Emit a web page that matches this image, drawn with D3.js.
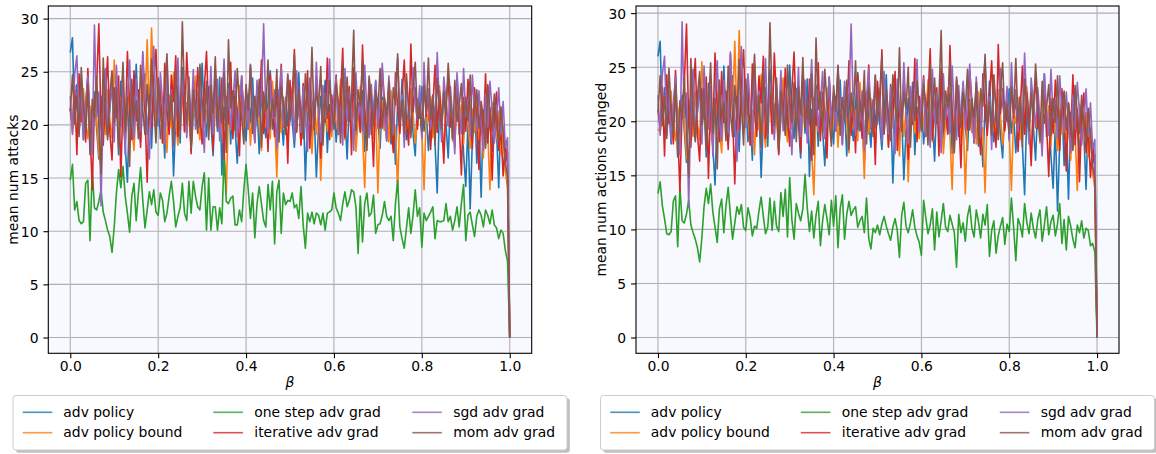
<!DOCTYPE html>
<html>
<head>
<meta charset="utf-8">
<script src="https://cdn.jsdelivr.net/npm/d3@7"></script>
<style>
  body { margin: 0; background: #fff; }
  svg { display: block; }
  text { font-family: "DejaVu Sans", sans-serif; fill: #000; }
</style>
</head>
<body>
<svg id="chart" width="1156" height="454"></svg>
<script>
// Series labels and colours (one entry per attack method)
const seriesNames = ["adv policy", "adv policy bound", "one step adv grad",
                     "iterative adv grad", "sgd adv grad", "mom adv grad"];
const seriesColors = ["#1f77b4", "#ff7f0e", "#2ca02c", "#d62728", "#9467bd", "#8c564b"];

// Tick values
const xTicks = [0.0, 0.2, 0.4, 0.6, 0.8, 1.0];
const yTicks = [0, 5, 10, 15, 20, 25, 30];

// beta runs from 0 to 1 in steps of 0.005 (201 samples per series)

// ---- mean num attacks ----
const attacksAdvPolicy = [
26.8,28.2,20.5,23.8,19.2,22.4,18.6,21.9,24.6,17.4,20.8,23.1,19.6,16.8,22.7,20.1,25.2,18.9,21.5,23.9,
19.8,22.6,17.2,24.1,20.4,18.1,14.6,21.8,23.4,19.5,25.7,20.9,18.4,22.3,24.8,19.1,21.6,17.8,23.5,20.2,
22.9,18.7,21.2,16.9,24.3,19.9,22.1,15.2,20.6,23.7,18.3,25.4,21.4,19.3,23.2,17.6,20.9,24.1,22.4,19.7,
25.8,21.1,18.9,23.6,20.3,17.1,22.8,19.4,24.5,15.3,21.7,20.1,23.9,18.2,22.5,19.8,16.4,21.3,24.2,20.7,
18.5,22.9,20.2,24.4,19.1,21.8,17.3,23.1,20.5,18.8,22.2,25.1,19.6,21.4,16.7,23.3,20.8,18.1,22.6,19.9,
23.7,20.4,17.9,21.6,24.9,19.2,22.3,14.8,20.7,23.4,18.6,21.2,15.1,19.8,22.7,20.1,24.2,17.4,21.9,19.3,
22.5,18.4,20.9,23.8,19.6,21.3,16.8,22.4,20.2,24.6,18.9,21.7,19.4,23.2,17.5,20.6,22.9,19.1,21.4,24.1,
20.3,17.8,22.6,19.5,21.1,23.5,18.2,20.8,16.3,22.1,19.7,24.3,20.5,18.6,21.9,23.1,19.2,17.1,22.4,20.6,
23.6,19.4,21.2,17.6,20.9,22.7,18.3,13.6,21.5,19.8,23.4,20.1,16.9,22.2,18.7,20.4,24.5,19.1,21.7,17.3,
14.2,20.3,12.1,18.6,22.8,16.4,19.9,13.2,21.4,18.1,23.6,20.2,17.5,22.1,19.4,14.1,21.2,18.8,16.6,17.4,
0];
const attacksAdvPolicyBound = [
21.6,19.3,20.8,22.9,19.6,21.2,23.4,20.1,18.7,21.8,19.9,22.3,20.5,17.2,16.3,21.4,19.1,23.3,20.2,18.8,
26.1,21.9,19.4,22.6,20.3,18.5,21.7,23.1,19.8,17.6,22.4,20.6,19.2,24.2,21.3,28.0,20.4,29.1,22.7,19.5,
23.6,20.9,18.3,21.5,17.4,22.8,19.7,24.9,20.2,18.1,21.6,23.4,19.3,22.1,20.7,17.9,21.9,24.6,20.4,18.6,
22.3,19.8,21.4,20.1,23.2,18.4,21.1,22.7,19.2,20.8,17.7,13.5,21.3,19.6,22.5,20.3,18.9,23.7,21.6,19.4,
20.9,22.4,18.1,21.8,19.5,23.1,20.4,17.6,22.2,19.9,21.5,18.7,24.1,20.6,15.1,21.9,19.3,22.6,20.2,18.4,
21.7,23.5,19.6,20.8,22.2,18.2,21.3,19.9,23.8,20.5,17.3,22.4,19.1,21.6,14.8,20.7,22.9,19.4,21.2,18.9,
22.7,20.3,19.2,24.3,21.1,18.6,20.9,22.5,19.7,21.8,17.5,20.4,23.6,19.3,14.1,21.5,20.2,22.8,18.7,21.3,
13.6,20.6,22.3,19.5,21.7,18.4,23.2,20.1,19.8,13.7,21.4,22.6,18.9,20.7,19.2,23.4,21.1,18.3,20.5,22.1,
19.6,13.9,21.2,20.3,22.7,18.8,21.6,19.4,23.7,20.9,17.4,22.3,19.9,21.4,18.5,20.6,24.2,19.7,21.9,18.2,
22.4,20.1,17.8,21.5,19.3,22.9,18.6,20.7,16.9,21.8,19.5,13.9,22.1,20.4,18.7,21.3,17.2,19.8,15.6,14.1,
0];
const attacksOneStep = [
14.8,16.3,12.0,12.8,11.0,10.7,10.9,14.5,14.8,9.1,15.8,12.2,12.0,12.8,13.9,11.8,11.0,10.1,9.5,8.0,
10.4,13.6,15.8,14.1,16.1,13.3,11.7,9.9,13.3,14.5,11.0,13.6,16.0,12.9,10.3,12.0,13.7,12.5,13.9,11.8,
11.5,13.6,12.9,10.9,11.7,13.3,14.7,12.8,10.4,11.4,12.2,14.5,11.7,11.0,14.7,11.7,14.7,13.3,12.3,12.0,
14.2,15.5,10.1,15.0,10.1,12.3,
12.3,10.1,12.2,10.7,17.2,12.8,12.6,13.1,13.3,10.6,10.6,12.0,10.9,13.9,16.3,13.9,11.2,13.6,9.4,12.6,
14.2,12.6,11.0,10.4,14.4,12.0,14.7,8.8,13.7,14.8,9.8,13.6,12.5,12.9,12.8,13.6,12.2,12.5,11.2,14.2,
10.6,8.4,11.7,10.9,11.8,10.7,11.7,11.5,10.6,11.7,10.1,11.7,11.8,12.0,13.6,12.2,11.7,11.0,12.6,13.7,
12.3,12.9,13.9,13.7,12.3,7.9,
13.3,9.0,12.6,13.6,11.4,11.7,13.4,9.8,10.6,10.7,11.5,12.8,11.4,11.0,11.4,9.1,12.6,14.8,10.4,9.3,
8.4,10.3,12.2,9.8,11.5,13.9,11.4,12.2,8.5,11.7,11.0,11.4,11.8,12.3,9.3,11.0,10.9,10.9,11.0,12.6,
10.9,11.4,10.1,11.0,12.3,10.4,12.6,14.4,9.1,11.5,11.8,10.6,9.5,11.4,12.0,11.5,10.4,12.0,11.5,10.7,
12.0,10.6,10.3,9.3,10.1,9.8,8.2,7.2,
0];
const attacksIterative = [
21.5,19.9,23.7,17.2,24.8,20.3,22.1,18.4,25.3,19.6,13.9,21.7,23.9,29.5,20.2,18.1,22.9,26.4,19.3,16.7,
23.5,20.7,24.6,15.1,22.4,19.2,26.9,21.8,18.6,25.1,20.4,23.3,17.9,26.7,21.2,14.6,22.8,19.7,24.2,27.1,
20.9,23.6,18.3,25.8,21.4,19.1,24.7,22.2,26.5,18.9,21.7,23.9,19.4,26.8,22.5,17.3,24.1,20.6,25.4,21.1,
18.2,23.4,26.9,20.8,22.9,17.6,25.2,21.5,19.3,24.4,16.8,22.7,20.1,25.9,18.7,23.2,21.4,17.1,24.6,20.3,
22.8,19.6,25.3,21.2,18.4,23.7,20.9,26.1,19.2,22.4,17.5,24.8,21.6,18.9,23.1,20.5,25.7,19.8,22.3,16.4,
24.2,21.1,27.1,19.4,22.6,18.1,23.9,20.7,25.1,17.8,22.2,19.6,24.5,21.3,16.9,23.4,20.2,26.3,18.6,22.8,
20.4,24.7,19.1,22.5,27.2,18.8,21.9,23.6,17.2,25.4,20.6,22.1,19.3,27.5,21.7,18.2,24.3,20.9,16.1,23.1,
21.4,19.7,25.2,22.3,18.5,23.8,20.1,17.4,24.9,21.6,19.2,22.7,26.1,20.3,18.1,27.6,21.2,23.5,19.6,22.4,
18.9,24.1,20.8,22.9,17.7,21.5,25.6,19.3,23.2,20.6,16.4,22.1,24.4,19.8,21.3,17.9,23.7,20.2,15.3,22.6,
19.4,24.3,21.1,17.8,23.5,20.4,15.8,22.2,19.1,24.8,18.3,21.6,14.8,20.9,23.1,17.6,19.7,15.2,18.4,16.2,
0];
const attacksSgd = [
22.7,19.1,24.8,26.5,20.3,23.4,18.6,21.9,24.6,19.7,17.3,29.4,20.8,23.1,12.4,22.2,25.3,19.2,21.6,24.2,
18.4,25.6,21.3,19.8,23.7,17.2,22.9,26.1,20.5,18.7,24.3,21.1,19.4,26.9,22.4,20.2,16.8,23.5,27.4,21.7,
19.9,24.9,22.1,18.2,25.8,20.6,23.3,17.9,21.5,26.3,19.3,24.1,22.7,18.8,23.9,20.4,25.2,19.6,22.3,24.7,
21.2,17.4,23.8,20.7,25.5,19.1,22.6,24.3,18.5,21.8,26.2,20.3,23.4,19.7,22.1,25.1,18.9,21.4,24.6,20.1,
23.2,19.6,25.7,21.9,18.3,24.2,20.8,22.5,29.5,21.3,19.2,24.1,20.6,23.3,17.8,22.7,25.4,19.9,21.6,24.8,
20.2,22.9,18.6,25.1,21.4,19.3,23.6,20.9,17.5,24.4,22.1,19.8,25.9,21.2,18.4,23.7,20.6,22.4,26.2,19.5,
22.8,24.5,19.2,21.7,18.1,25.3,20.4,23.1,21.9,17.6,24.9,20.7,22.6,19.4,25.6,21.3,18.8,23.8,20.1,24.2,
19.7,22.3,25.8,20.9,18.5,24.6,21.4,19.1,23.5,26.3,20.2,22.8,17.9,24.1,21.6,19.3,25.4,22.1,20.5,23.7,
18.7,25.9,21.1,23.4,19.6,22.7,20.3,26.8,21.8,18.4,24.5,22.2,19.9,23.6,20.7,17.3,24.9,21.5,19.2,25.3,
20.8,22.4,18.9,24.7,21.3,19.5,23.2,20.1,17.6,22.9,19.8,24.1,21.4,18.3,20.6,23.5,19.1,22.2,17.9,18.8,
0];
const attacksMom = [
21.3,24.7,20.1,22.8,18.9,25.4,21.6,19.3,23.9,17.2,22.4,20.7,24.6,19.8,15.4,26.3,21.1,18.6,22.9,25.1,
20.2,23.5,17.9,21.8,25.9,19.4,22.6,16.1,24.3,20.8,22.2,18.7,25.6,21.4,19.1,23.8,20.5,26.2,22.1,18.3,
24.4,21.2,19.6,23.1,26.7,20.3,22.9,18.1,25.2,21.7,19.4,29.7,22.6,20.1,24.5,17.8,23.3,21.5,19.2,25.7,
22.3,20.4,24.1,18.6,23.7,21.1,26.4,19.8,22.5,20.2,24.9,17.4,28.0,21.6,23.2,19.5,25.3,22.1,20.7,18.2,
23.8,21.4,25.6,19.2,22.7,20.6,24.3,17.9,23.1,21.3,26.1,19.7,22.4,20.8,25.2,18.4,23.6,21.9,19.1,24.7,
20.5,22.8,26.6,19.3,23.4,21.2,18.7,24.8,22.1,20.4,27.3,19.8,23.1,21.7,25.5,18.1,22.9,20.6,24.2,21.4,
19.6,23.9,22.2,18.3,25.8,21.1,24.5,20.3,22.7,28.9,19.5,23.3,21.8,26.1,20.2,17.6,24.6,22.4,19.9,23.2,
21.5,25.3,19.7,22.6,20.8,24.1,18.4,23.5,21.9,26.7,20.1,22.3,19.2,24.8,21.6,18.8,23.4,25.9,20.6,22.1,
19.4,23.7,21.2,26.3,20.5,22.8,18.1,24.4,21.7,19.6,23.1,20.9,25.8,22.4,18.7,24.2,20.3,21.8,23.9,19.2,
22.6,20.4,24.7,18.9,21.5,23.3,19.7,22.1,20.6,17.8,23.8,21.2,19.4,22.9,20.1,18.5,21.7,19.3,16.4,15.1,
0];

// ---- mean num actions changed ----
const changedAdvPolicy = [
26.0,27.4,19.8,23.1,18.7,21.6,17.9,21.2,24.1,16.8,20.3,22.4,19.1,16.2,22.0,19.6,24.6,18.3,20.9,23.2,
19.2,21.9,16.7,23.5,19.8,17.6,14.1,21.1,22.8,18.9,25.1,20.3,17.8,21.7,24.2,18.6,20.9,17.2,22.9,19.6,
22.3,18.1,20.6,16.4,23.6,19.3,21.5,14.8,20.1,23.1,17.7,24.8,20.8,18.8,22.6,17.1,20.3,23.5,21.8,19.1,
25.2,20.5,18.4,23.0,19.7,16.6,22.2,18.9,23.9,14.9,21.1,19.5,23.3,17.7,21.9,19.2,15.9,20.7,23.6,20.1,
17.9,22.3,19.6,23.8,18.6,21.2,16.8,22.5,19.9,18.2,21.6,24.5,19.1,20.8,16.2,22.7,20.2,17.6,22.0,19.4,
23.1,19.8,17.4,21.0,24.3,18.7,21.7,14.3,20.1,22.8,18.1,20.6,14.6,19.2,22.1,19.5,23.6,16.9,21.3,18.8,
21.9,17.9,20.3,23.2,19.1,20.7,16.3,21.8,19.6,24.0,18.4,21.1,18.9,22.6,17.0,20.0,22.3,18.6,20.8,23.5,
19.7,17.3,22.0,19.0,20.5,22.9,17.7,20.2,15.8,21.5,19.2,23.7,19.9,18.1,21.3,22.5,18.7,16.6,21.8,20.0,
23.0,18.9,20.6,17.1,20.3,22.1,17.8,13.2,20.9,19.3,22.8,19.5,16.4,21.6,18.2,19.8,24.4,18.6,21.1,16.8,
13.8,19.7,11.7,18.1,22.2,15.9,19.3,12.8,20.8,17.6,23.0,19.6,17.0,21.5,18.9,13.7,20.6,18.3,16.1,16.9,
0];
const changedAdvPolicyBound = [
19.3,19.0,20.4,22.3,19.1,20.7,22.8,19.6,18.2,21.3,19.4,21.8,19.9,16.8,15.9,20.8,18.6,22.7,19.7,18.3,
25.5,21.3,18.9,22.1,19.8,18.0,21.2,22.6,19.3,17.1,21.9,20.1,18.7,23.6,20.8,27.4,19.9,28.4,22.1,19.0,
23.0,20.4,17.8,21.0,16.9,22.3,19.2,24.3,19.7,17.6,21.1,22.9,18.8,21.6,20.2,17.4,21.4,24.0,19.9,18.1,
21.8,19.3,20.9,19.6,22.7,17.9,20.6,22.2,18.7,20.3,17.2,13.2,20.8,19.1,22.0,19.8,18.4,23.1,21.1,18.9,
20.4,21.9,17.6,21.3,19.0,22.6,19.9,17.1,21.7,19.4,21.0,18.2,23.6,20.1,14.7,21.4,18.8,22.1,19.7,17.9,
21.2,23.0,19.1,20.3,21.7,17.7,20.8,19.4,23.3,20.0,16.8,21.9,18.6,21.1,14.4,20.2,22.4,18.9,20.7,18.4,
22.2,19.8,18.7,23.8,20.6,18.1,20.4,22.0,19.2,21.3,17.0,19.9,23.1,18.8,13.7,21.0,19.7,22.3,18.2,20.8,
13.3,20.1,21.8,19.0,21.2,17.9,22.7,19.6,19.3,13.4,20.9,22.1,18.4,20.2,18.7,22.9,20.6,17.8,20.0,21.6,
19.1,13.6,20.7,19.8,22.2,18.3,21.1,18.9,23.2,20.4,16.9,21.8,19.4,20.9,18.0,20.1,23.7,19.2,21.4,17.7,
21.9,19.6,17.3,21.0,18.8,22.4,18.1,20.2,16.4,21.3,19.0,13.6,21.6,19.9,18.2,20.8,16.7,19.3,15.2,13.8,
0];
const changedOneStep = [
13.3,14.4,12.2,11.0,9.6,9.5,9.8,12.6,13.1,8.4,13.9,10.8,10.6,11.4,12.7,10.4,9.7,9.1,8.3,7.0,
9.2,12.1,13.8,12.4,14.2,11.6,10.2,8.8,11.9,12.8,9.7,12.2,13.9,11.3,9.1,10.6,12.1,11.4,12.3,10.2,
9.9,12.0,11.1,9.4,10.3,10.1,11.7,13.0,11.2,9.6,10.2,12.9,9.9,12.6,10.3,9.8,13.4,11.2,13.7,9.3,
14.8,10.9,9.1,12.4,11.5,10.8,11.9,15.1,12.0,9.8,11.7,9.2,11.3,12.6,8.5,10.8,12.3,11.0,9.5,12.7,
10.3,13.1,8.3,11.9,13.2,9.1,11.4,12.6,11.3,11.8,12.1,10.2,10.8,11.2,9.7,12.9,9.2,8.2,10.1,9.7,
10.4,9.5,10.5,11.2,10.3,9.6,9.0,10.2,11.0,9.9,7.4,11.3,12.5,10.3,9.7,10.6,11.8,10.2,9.4,8.8,
7.6,12.7,11.1,9.6,10.4,11.9,8.1,11.6,9.3,10.8,12.4,10.2,9.8,11.3,10.5,9.7,6.5,11.4,9.7,10.6,
8.9,11.2,12.2,10.1,9.3,11.8,10.7,9.2,11.4,10.4,12.3,7.5,9.9,10.8,7.8,9.4,10.3,11.1,8.6,10.5,
9.8,12.9,10.2,7.1,11.0,10.4,9.3,12.4,10.7,9.6,11.5,10.1,9.2,10.9,11.8,8.9,10.4,12.1,9.5,10.7,
11.3,9.4,10.5,12.4,8.7,10.9,8.1,11.2,10.3,9.1,8.3,10.4,9.7,10.8,9.2,10.1,9.9,8.5,8.7,7.9,
0];
const changedIterative = [
21.0,19.4,23.2,16.8,24.3,19.8,21.6,17.9,24.7,19.1,13.5,21.2,23.4,29.0,19.7,17.6,22.4,25.8,18.8,16.3,
23.0,20.2,24.1,14.7,21.9,18.7,26.3,21.3,18.1,24.6,19.9,22.8,17.4,26.2,20.7,14.2,22.3,19.2,23.7,26.6,
20.4,23.1,17.8,25.3,20.9,18.6,24.2,21.7,26.0,18.4,21.2,23.4,18.9,26.3,22.0,16.9,23.6,20.1,24.9,20.6,
17.7,22.9,26.4,20.3,22.4,17.1,24.7,21.0,18.8,23.9,16.4,22.2,19.6,25.4,18.2,22.7,20.9,16.6,24.1,19.8,
22.3,19.1,24.8,20.7,17.9,23.2,20.4,25.6,18.7,21.9,17.1,24.3,21.1,18.4,22.6,20.0,25.2,19.3,21.8,16.0,
23.7,20.6,26.6,18.9,22.1,17.6,23.4,20.2,24.6,17.3,21.7,19.1,24.0,20.8,16.5,22.9,19.7,25.8,18.1,22.3,
19.9,24.2,18.6,22.0,26.7,18.3,21.4,23.1,16.8,24.9,20.1,21.6,18.8,27.0,21.2,17.7,23.8,20.4,15.7,22.6,
20.9,19.2,24.7,21.8,18.0,23.3,19.6,16.9,24.4,21.1,18.7,22.2,25.6,19.8,17.6,27.1,20.7,23.0,19.1,21.9,
18.4,23.6,20.3,22.4,17.2,21.0,25.1,18.8,22.7,20.1,15.9,21.6,23.9,19.3,20.8,17.4,23.2,19.7,14.9,22.1,
18.9,23.8,20.6,17.3,23.0,19.9,15.4,21.7,18.6,24.3,17.8,21.1,14.4,20.4,22.6,17.1,19.2,14.8,17.9,15.8,
0];
const changedSgd = [
22.4,18.7,24.3,26.0,19.8,22.9,18.1,21.4,24.1,19.2,16.9,29.2,20.3,22.6,12.1,21.7,24.8,18.7,21.1,23.7,
17.9,25.1,20.8,19.3,23.2,16.8,22.4,25.6,20.0,18.2,23.8,20.6,18.9,26.4,21.9,19.7,16.3,23.0,26.9,21.2,
19.4,24.4,21.6,17.7,25.3,20.1,22.8,17.4,21.0,25.8,18.8,23.6,22.2,18.3,23.4,19.9,24.7,19.1,21.8,24.2,
20.7,16.9,23.3,20.2,25.0,18.6,22.1,23.8,18.0,21.3,25.7,19.8,22.9,19.2,21.6,24.6,18.4,20.9,24.1,19.6,
22.7,19.1,25.2,21.4,17.8,23.7,20.3,22.0,29.0,20.8,18.7,23.6,20.1,22.8,17.3,22.2,24.9,19.4,21.1,24.3,
19.7,22.4,18.1,24.6,20.9,18.8,23.1,20.4,17.0,23.9,21.6,19.3,25.4,20.7,17.9,23.2,20.1,21.9,25.7,19.0,
22.3,24.0,18.7,21.2,17.6,24.8,19.9,22.6,21.4,17.1,24.4,20.2,22.1,18.9,25.1,20.8,18.3,23.3,19.6,23.7,
19.2,21.8,25.3,20.4,18.0,24.1,20.9,18.6,23.0,25.8,19.7,22.3,17.4,23.6,21.1,18.8,24.9,21.6,20.0,23.2,
18.2,25.4,20.6,22.9,19.1,22.2,19.8,26.3,21.3,17.9,24.0,21.7,19.4,23.1,20.2,16.8,24.4,21.0,18.7,24.8,
20.3,21.9,18.4,24.2,20.8,19.0,22.7,19.6,17.1,22.4,19.3,23.6,20.9,17.8,20.1,23.0,18.6,21.7,17.4,18.3,
0];
const changedMom = [
20.8,24.2,19.6,22.3,18.4,24.9,21.1,18.8,23.4,16.7,21.9,20.2,24.1,19.3,14.9,25.8,20.6,18.1,22.4,24.6,
19.7,23.0,17.4,21.3,25.4,18.9,22.1,15.6,23.8,20.3,21.7,18.2,25.1,20.9,18.6,23.3,20.0,25.7,21.6,17.8,
23.9,20.7,19.1,22.6,26.2,19.8,22.4,17.6,24.7,21.2,18.9,29.1,22.1,19.6,24.0,17.3,22.8,21.0,18.7,25.2,
21.8,19.9,23.6,18.1,23.2,20.6,25.9,19.3,22.0,19.7,24.4,16.9,27.7,21.1,22.7,19.0,24.8,21.6,20.2,17.7,
23.3,20.9,25.1,18.7,22.2,20.1,23.8,17.4,22.6,20.8,25.6,19.2,21.9,20.3,24.7,17.9,23.1,21.4,18.6,24.2,
20.0,22.3,26.1,18.8,22.9,20.7,18.2,24.3,21.6,19.9,26.8,19.3,22.6,21.2,25.0,17.6,22.4,20.1,23.7,20.9,
19.1,23.4,21.7,17.8,25.3,20.6,24.0,19.8,22.2,28.4,19.0,22.8,21.3,25.6,19.7,17.1,24.1,21.9,19.4,22.7,
21.0,24.8,19.2,22.1,20.3,23.6,17.9,23.0,21.4,26.2,19.6,21.8,18.7,24.3,21.1,18.3,22.9,25.4,20.1,21.6,
18.9,23.2,20.7,25.8,20.0,22.3,17.6,23.9,21.2,19.1,22.6,20.4,25.3,21.9,18.2,23.7,19.8,21.3,23.4,18.7,
22.1,19.9,24.2,18.4,21.0,22.8,19.2,21.6,20.1,17.3,23.3,20.7,18.9,22.4,19.6,18.0,21.2,18.8,15.9,14.6,
0];

const panels = [
  { ylabel: "mean num attacks",
    series: [attacksAdvPolicy, attacksAdvPolicyBound, attacksOneStep, attacksIterative, attacksSgd, attacksMom],
    left: 48.3, right: 531.7, ylabelX: 18.3, legendX: 13 },
  { ylabel: "mean num actions changed",
    series: [changedAdvPolicy, changedAdvPolicyBound, changedOneStep, changedIterative, changedSgd, changedMom],
    left: 636, right: 1119, ylabelX: 605.5, legendX: 600.5 }
];

const svg = d3.select("#chart");
const plotTop = 6, plotBottom = 353.3;
const tickLen = 4.9, tickPad = 4.9;
const fontSize = 13.9;

panels.forEach((p, pi) => {
  const x = d3.scaleLinear().domain([-0.05, 1.05]).range([p.left, p.right]);
  const all = p.series.flat();
  const lo = d3.min(all), hi = d3.max(all), pad = (hi - lo) * 0.05;
  const y = d3.scaleLinear().domain([lo - pad, hi + pad]).range([plotBottom, plotTop]);

  const g = svg.append("g");
  const clipId = "clip" + pi;
  g.append("clipPath").attr("id", clipId)
    .append("rect").attr("x", p.left).attr("y", plotTop)
    .attr("width", p.right - p.left).attr("height", plotBottom - plotTop);

  // plotting area
  g.append("rect").attr("x", p.left).attr("y", plotTop)
    .attr("width", p.right - p.left).attr("height", plotBottom - plotTop)
    .attr("fill", "#f8f8ff");

  // grid
  const grid = g.append("g").attr("stroke", "#b0b0b0").attr("stroke-width", 1.1);
  grid.selectAll(".gx").data(xTicks).join("line")
    .attr("x1", d => x(d)).attr("x2", d => x(d)).attr("y1", plotTop).attr("y2", plotBottom);
  grid.selectAll(".gy").data(yTicks).join("line")
    .attr("y1", d => y(d)).attr("y2", d => y(d)).attr("x1", p.left).attr("x2", p.right);

  // series lines
  const line = d3.line()
    .x((d, i, arr) => x(i / (arr.length - 1)))
    .y(d => y(d));
  const lines = g.append("g").attr("clip-path", `url(#${clipId})`);
  p.series.forEach((vals, si) => {
    lines.append("path")
      .attr("d", line(vals))
      .attr("fill", "none")
      .attr("stroke", seriesColors[si])
      .attr("stroke-width", 1.6)
      .attr("stroke-linejoin", "round");
  });

  // frame
  g.append("rect").attr("x", p.left).attr("y", plotTop)
    .attr("width", p.right - p.left).attr("height", plotBottom - plotTop)
    .attr("fill", "none").attr("stroke", "#000").attr("stroke-width", 1.1);

  // x axis
  const xa = g.append("g").attr("transform", `translate(0,${plotBottom})`)
    .call(d3.axisBottom(x).tickValues(xTicks).tickFormat(d3.format(".1f"))
      .tickSize(tickLen).tickPadding(tickPad));
  xa.select(".domain").remove();
  xa.selectAll("line").attr("stroke", "#000").attr("stroke-width", 1.1);
  xa.selectAll("text").attr("font-size", fontSize).attr("font-family", "DejaVu Sans")
    .attr("fill", "#000").attr("dy", null).attr("y", 371 - plotBottom);

  // y axis
  const ya = g.append("g").attr("transform", `translate(${p.left},0)`)
    .call(d3.axisLeft(y).tickValues(yTicks).tickFormat(d3.format("d"))
      .tickSize(tickLen).tickPadding(tickPad));
  ya.select(".domain").remove();
  ya.selectAll("line").attr("stroke", "#000").attr("stroke-width", 1.1);
  ya.selectAll("text").attr("font-size", fontSize).attr("font-family", "DejaVu Sans")
    .attr("fill", "#000").attr("dy", "0.36em");

  // axis labels
  g.append("text")
    .attr("x", (p.left + p.right) / 2).attr("y", 386.5)
    .attr("text-anchor", "middle").attr("font-size", fontSize)
    .attr("font-style", "italic").text("β");
  g.append("text")
    .attr("transform", `translate(${p.ylabelX},${(plotTop + plotBottom) / 2}) rotate(-90)`)
    .attr("text-anchor", "middle").attr("font-size", fontSize)
    .text(p.ylabel);

  // legend
  const lx = p.legendX, ly = 395.5, lw = 554, lh = 54.5;
  const leg = g.append("g");
  leg.append("rect").attr("x", lx + 2.8).attr("y", ly + 2.8)
    .attr("width", lw).attr("height", lh).attr("rx", 3)
    .attr("fill", "#808080").attr("opacity", 0.5);
  leg.append("rect").attr("x", lx).attr("y", ly)
    .attr("width", lw).attr("height", lh).attr("rx", 3)
    .attr("fill", "#fff").attr("stroke", "#cccccc").attr("stroke-width", 1);
  const colHandle = [9.7, 200.3, 399.3];
  const colText = [50.3, 241.3, 440.3];
  const rowY = [412.3, 432.7];
  seriesNames.forEach((name, i) => {
    const c = Math.floor(i / 2), r = i % 2;
    leg.append("line")
      .attr("x1", lx + colHandle[c]).attr("x2", lx + colHandle[c] + 29.6)
      .attr("y1", rowY[r]).attr("y2", rowY[r])
      .attr("stroke", seriesColors[i]).attr("stroke-width", 1.6).attr("opacity", 0.8);
    leg.append("text")
      .attr("x", lx + colText[c]).attr("y", rowY[r] + 4.6)
      .attr("font-size", fontSize).text(name);
  });
});
</script>
</body>
</html>
